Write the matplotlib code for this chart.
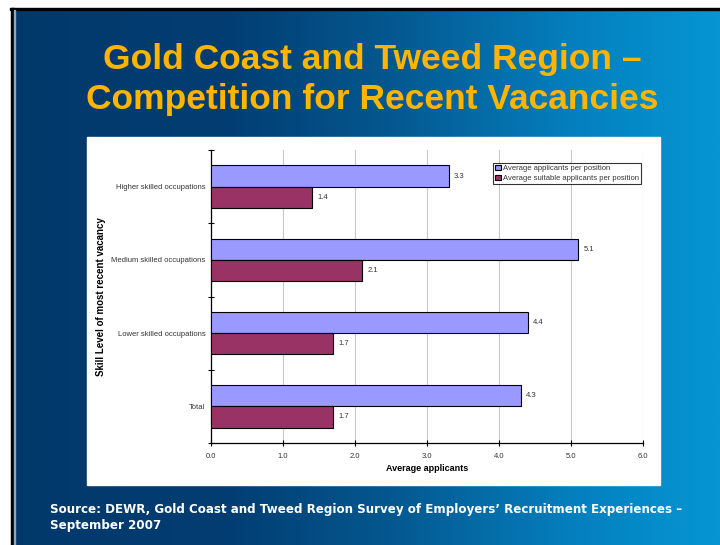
import numpy as np
import matplotlib
matplotlib.use("Agg")
import matplotlib.pyplot as plt
from matplotlib.colors import LinearSegmentedColormap
from matplotlib.patches import Rectangle

# Data
categories = ["Higher skilled occupations", "Medium skilled occupations",
              "Lower skilled occupations", "Total"]
avg_applicants = [3.3, 5.1, 4.4, 4.3]
avg_suitable = [1.4, 2.1, 1.7, 1.7]
series_names = ["Average applicants per position",
                "Average suitable applicants per position"]
x_ticks = [0, 1, 2, 3, 4, 5, 6]

W, H = 720, 545
fig = plt.figure(figsize=(W / 100, H / 100), dpi=100)
fig.patch.set_facecolor("white")

# Slide background with horizontal blue gradient
bg = fig.add_axes([0, 0, 1, 1], zorder=0)
bg.set_xlim(0, W)
bg.set_ylim(H, 0)
bg.axis("off")
cmap = LinearSegmentedColormap.from_list(
    "slide", [(0.0, "#03396b"), (0.30, "#023d72"), (0.55, "#045a92"),
              (0.80, "#0480bf"), (1.0, "#0696d4")])
grad = np.linspace(0, 1, 512).reshape(1, -1)
bg.imshow(grad, cmap=cmap, aspect="auto", extent=(14, W, H, 10), zorder=1)
# dark frame on top and left edges
bg.add_patch(Rectangle((0, 0), W, 7.5, color="white", zorder=2))
bg.add_patch(Rectangle((10, 7.5), W, 2.8, color="black", zorder=3))
bg.add_patch(Rectangle((0, 0), 10.5, H, color="white", zorder=2))
bg.add_patch(Rectangle((10.5, 7.5), 3.2, H, color="black", zorder=3))
bg.add_patch(Rectangle((13.7, 10), 1.6, H, color="#8aa8c6", zorder=3))
# white chart panel
bg.add_patch(Rectangle((87, 137), 573, 348, color="white", zorder=4))

# Title
title_kw = dict(ha="center", va="center", color="#ffb400", fontsize=25.5,
                fontweight="bold", family="Liberation Sans")
fig.text(372 / W, 1 - 60 / H, "Gold Coast and Tweed Region –", **title_kw)
fig.text(372 / W, 1 - 99 / H, "Competition for Recent Vacancies", **title_kw)

# Source note
src_kw = dict(ha="left", va="center", color="white", fontsize=8.6,
              fontweight="bold", family="DejaVu Sans")
fig.text(50 / W, 1 - 510 / H,
         "Source: DEWR, Gold Coast and Tweed Region Survey of Employers\u2019 Recruitment Experiences \u2013",
         **src_kw)
fig.text(50 / W, 1 - 525 / H, "September 2007", **src_kw)

# Bar chart
ax = fig.add_axes([211 / W, 1 - 443 / H, (643 - 211) / W, (443 - 150) / H], zorder=5)
ax.set_facecolor("white")
y = np.arange(len(categories))
h = 0.29
b1 = ax.barh(y - h / 2, avg_applicants, height=h, color="#9999ff", edgecolor="black",
             linewidth=0.8, label=series_names[0], zorder=3)
b2 = ax.barh(y + h / 2, avg_suitable, height=h, color="#993366", edgecolor="black",
             linewidth=0.8, label=series_names[1], zorder=3)
for bars, vals in ((b1, avg_applicants), (b2, avg_suitable)):
    for rect, v in zip(bars, vals):
        ax.annotate(f"{v:.1f}", (v, rect.get_y() + rect.get_height() / 2),
                    xytext=(4, 0), textcoords="offset points", ha="left", va="center",
                    fontsize=5.5, color="#333333", family="Liberation Sans")

ax.set_xlim(0, 6)
ax.set_ylim(len(categories) - 0.5, -0.5)
ax.set_xticks(x_ticks)
ax.set_xticklabels([f"{t:.1f}" for t in x_ticks], fontsize=5.5,
                   family="Liberation Sans", color="#333333")
ax.set_yticks(y)
ax.set_yticklabels(categories, fontsize=5.5, family="Liberation Sans", color="#333333")
ax.set_yticks(np.arange(-0.5, len(categories), 1.0), minor=True)
ax.tick_params(axis="y", which="major", length=0, pad=4)
ax.tick_params(axis="y", which="minor", direction="inout", length=4, width=0.8)
ax.tick_params(axis="x", direction="inout", length=4, width=0.8, pad=5)
ax.grid(axis="x", color="#c8c8c8", linewidth=0.8, zorder=0)
ax.set_axisbelow(True)
for s in ("top", "right"):
    ax.spines[s].set_visible(False)
for s in ("left", "bottom"):
    ax.spines[s].set_linewidth(0.9)
ax.set_xlabel("Average applicants", fontsize=6.5, fontweight="bold",
              family="Liberation Sans", labelpad=3)
fig.text(101 / W, 1 - 297 / H, "Skill Level of most recent vacancy", rotation=90,
         ha="center", va="center", fontsize=7, fontweight="bold", family="Liberation Sans")

leg = ax.legend(loc="upper right", bbox_to_anchor=(645 / W, 1 - 159 / H),
                bbox_transform=fig.transFigure, frameon=True,
                fancybox=False, handlelength=0.7, handleheight=0.7,
                handletextpad=0.3, borderpad=0.3, labelspacing=0.3,
                prop={"family": "Liberation Sans", "size": 5.5})
leg.get_frame().set_edgecolor("black")
leg.get_frame().set_linewidth(0.8)
for t in leg.get_texts():
    t.set_color("#333333")

fig.savefig("out.png", dpi=100, facecolor=fig.get_facecolor())
